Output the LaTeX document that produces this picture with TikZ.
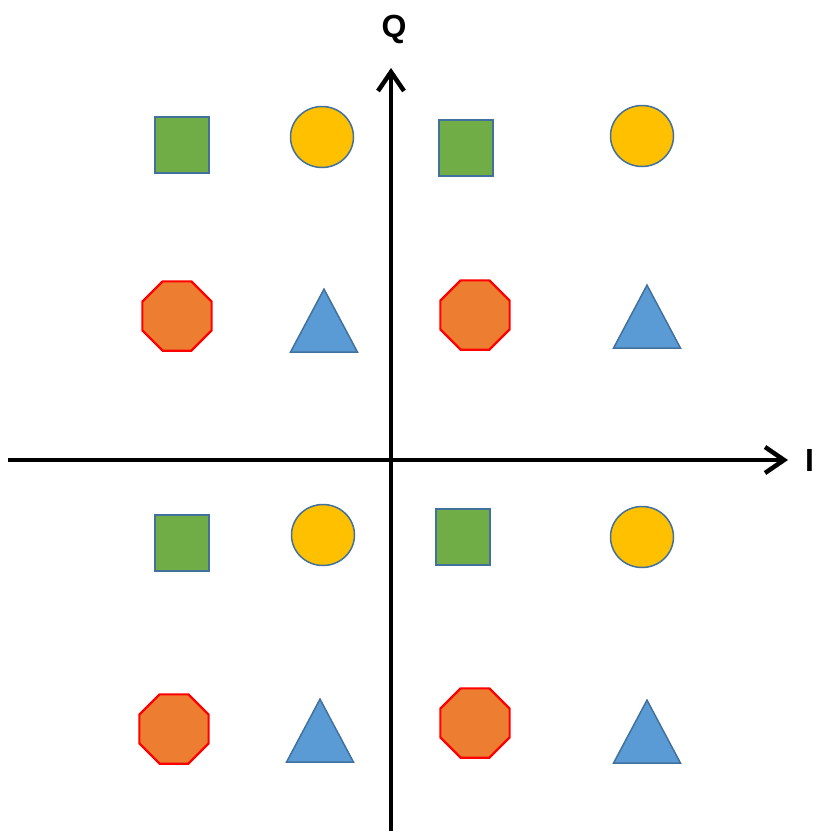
\documentclass[tikz,border=0pt]{standalone}
\usepackage{fontspec}
\setmainfont{Liberation Sans}
\usetikzlibrary{arrows.meta,shapes.geometric}

\definecolor{sqgreen}{HTML}{70AD47}
\definecolor{dotyellow}{HTML}{FFC000}
\definecolor{octorange}{HTML}{ED7D31}
\definecolor{triblue}{HTML}{5B9BD5}
\definecolor{edgeblue}{HTML}{41719C}

\tikzset{
  axis/.style={line width=3.5pt, -{Straight Barb[length=19pt,width=26pt,line width=4.5pt]}},
  sqpt/.style={rectangle, draw=edgeblue, fill=sqgreen, line width=1.5pt, minimum width=54pt, minimum height=56pt, inner sep=0pt},
  dotpt/.style={ellipse, draw=edgeblue, fill=dotyellow, line width=1.5pt, minimum width=63pt, minimum height=61pt, inner sep=0pt},
  octpt/.style={regular polygon, regular polygon sides=8, draw=red, fill=octorange, line width=2.2pt, minimum size=75pt, inner sep=0pt},
  tript/.style={isosceles triangle, isosceles triangle stretches, shape border rotate=90, draw=edgeblue, fill=triblue, line width=1.5pt, minimum width=67pt, minimum height=63pt, inner sep=0pt},
  lbl/.style={font=\bfseries\fontsize{32}{36}\selectfont, inner sep=0pt}
}

\begin{document}
\begin{tikzpicture}[x=1pt,y=-1pt]
\useasboundingbox (0,0) rectangle (813,831);

% axes
\coordinate (qlow) at (391,831);
\coordinate (qhigh) at (391,68);
\coordinate (ilow) at (8,460);
\coordinate (ihigh) at (788,460);
\draw[axis] (ilow) -- (ihigh);
\draw[axis] (qlow) -- (qhigh);
\node[lbl] (qlabel) at (394,29) {Q};
\node[lbl, anchor=west] (ilabel) at (805,460) {I};

% row 1
\node[sqpt] (sqA) at (182,145) {};
\node[dotpt] (dotA) at (322,137) {};
\node[sqpt] (sqB) at (466,148) {};
\node[dotpt] (dotB) at (642,136) {};

% row 2 (triangles placed by centroid)
\node[octpt] (octA) at (177,316) {};
\node[tript] (triA) at (324,332) {};
\node[octpt] (octB) at (475,315) {};
\node[tript] (triB) at (647,328) {};

% row 3
\node[sqpt] (sqC) at (182,543) {};
\node[dotpt] (dotC) at (323,535) {};
\node[sqpt] (sqD) at (463,537) {};
\node[dotpt] (dotD) at (642,537) {};

% row 4
\node[octpt] (octC) at (174,729) {};
\node[tript] (triC) at (320,742) {};
\node[octpt] (octD) at (475,723) {};
\node[tript] (triD) at (647,743) {};

\end{tikzpicture}
\end{document}
